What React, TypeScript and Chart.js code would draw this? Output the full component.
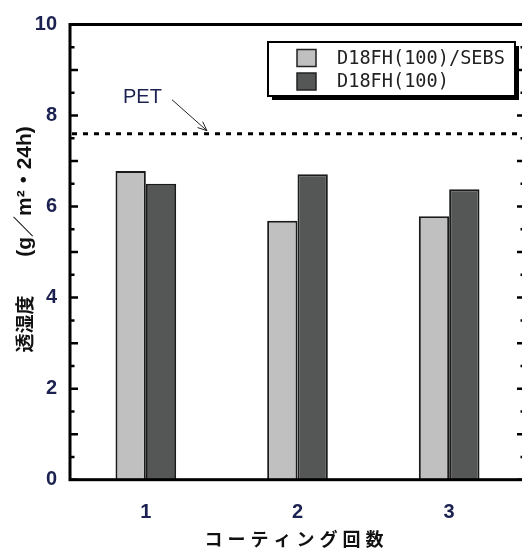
import React, { useEffect, useRef } from 'react';
import { Chart, registerables } from 'chart.js';

Chart.register(...registerables);

const categories = ['1', '2', '3'];
const seriesNames = ['D18FH(100)/SEBS', 'D18FH(100)'];
const sebsValues = [6.78, 5.69, 5.79];
const plainValues = [6.5, 6.71, 6.38];
const seriesColors = ['#c0c0c0', '#555757'];
const petValue = 7.6;
const petLabel = 'PET';
const yMin = 0;
const yMax = 10;
const yLabelStep = 2;
const yMinorStep = 0.5;
const yTitleMain = '透湿度';
const yTitleUnit = '(g／m²・24h)';
const xTitle = 'コーティング回数';

const tickColor = '#1b2150';

const decorPlugin = {
  id: 'decor',
  afterDatasetsDraw(chart: any) {
    const { ctx, chartArea: a, scales } = chart;
    const y = scales.y;
    ctx.save();

    // PET dotted line
    const py = y.getPixelForValue(petValue);
    ctx.strokeStyle = '#000';
    ctx.lineWidth = 3;
    ctx.setLineDash([5, 6]);
    ctx.beginPath();
    ctx.moveTo(a.left + 2, py);
    ctx.lineTo(a.right, py);
    ctx.stroke();
    ctx.setLineDash([]);

    // frame
    ctx.lineWidth = 3;
    ctx.strokeRect(a.left, a.top, a.right - a.left, a.bottom - a.top);

    // inward ticks on left and right
    ctx.lineWidth = 2.5;
    for (let v = yMin; v <= yMax + 1e-9; v += yMinorStep) {
      const ty = y.getPixelForValue(v);
      const major = Math.abs(v - Math.round(v)) < 1e-9;
      const len = major ? 8 : 4.5;
      ctx.beginPath();
      ctx.moveTo(a.left, ty);
      ctx.lineTo(a.left + len, ty);
      ctx.moveTo(a.right, ty);
      ctx.lineTo(a.right - len, ty);
      ctx.stroke();
    }

    // PET label and arrow
    ctx.fillStyle = tickColor;
    ctx.font = '20px "Liberation Sans", Arial, sans-serif';
    ctx.textAlign = 'left';
    ctx.textBaseline = 'alphabetic';
    ctx.fillText(petLabel, a.left + 53, py - 31);
    ctx.strokeStyle = '#222';
    ctx.lineWidth = 1;
    const sx = a.left + 102, sy = py - 34;
    const ex = a.left + 137, ey = py - 3;
    ctx.beginPath();
    ctx.moveTo(sx, sy);
    ctx.lineTo(ex, ey);
    const ang = Math.atan2(ey - sy, ex - sx);
    const hl = 10;
    ctx.moveTo(ex, ey);
    ctx.lineTo(ex - hl * Math.cos(ang - 0.4), ey - hl * Math.sin(ang - 0.4));
    ctx.moveTo(ex, ey);
    ctx.lineTo(ex - hl * Math.cos(ang + 0.4), ey - hl * Math.sin(ang + 0.4));
    ctx.stroke();

    // legend
    const lx = a.left + 198, ly = a.top + 17.5;
    const lw = 247, lh = 54;
    ctx.fillStyle = '#000';
    ctx.fillRect(lx + 4, ly + 4, lw, lh);
    ctx.fillStyle = '#fff';
    ctx.fillRect(lx, ly, lw, lh);
    ctx.strokeStyle = '#000';
    ctx.lineWidth = 2;
    ctx.strokeRect(lx, ly, lw, lh);
    ctx.font = '18.6px "DejaVu Sans Mono", monospace';
    ctx.textBaseline = 'middle';
    chart.data.datasets.forEach((ds: any, i: number) => {
      const rowY = ly + 16 + i * 23.5;
      ctx.fillStyle = ds.backgroundColor;
      ctx.fillRect(lx + 29, rowY - 8.5, 19, 17);
      ctx.strokeStyle = '#222';
      ctx.lineWidth = 1.5;
      ctx.strokeRect(lx + 29, rowY - 8.5, 19, 17);
      ctx.fillStyle = '#222';
      ctx.fillText(ds.label, lx + 69, rowY + 1);
    });

    // axis titles
    ctx.fillStyle = '#111';
    ctx.textAlign = 'center';
    ctx.textBaseline = 'middle';
    const drawRot = (text: string, cx: number, cy: number, font: string) => {
      ctx.save();
      ctx.font = font;
      ctx.translate(cx, cy);
      ctx.rotate(-Math.PI / 2);
      ctx.fillText(text, 0, 0);
      ctx.restore();
    };
    drawRot(yTitleMain, 25, 324, 'bold 19px "Noto Sans CJK JP", sans-serif');
    drawRot(yTitleUnit, 25, 191.5, 'bold 21px "Liberation Sans", "Noto Sans CJK JP", sans-serif');

    ctx.font = 'bold 18px "Noto Sans CJK JP", sans-serif';
    (ctx as any).letterSpacing = '5px';
    ctx.fillText(xTitle, (a.left + a.right) / 2 - 1, 539);
    (ctx as any).letterSpacing = '0px';

    ctx.restore();
  },
};

export default function App() {
  const ref = useRef<HTMLCanvasElement>(null);
  useEffect(() => {
    if (!ref.current) return;
    const chart = new Chart(ref.current, {
      type: 'bar',
      data: {
        labels: categories,
        datasets: [
          {
            label: seriesNames[0],
            data: sebsValues,
            backgroundColor: seriesColors[0],
            borderColor: '#1a1a1a',
            borderWidth: 2,
          },
          {
            label: seriesNames[1],
            data: plainValues,
            backgroundColor: seriesColors[1],
            borderColor: '#1a1a1a',
            borderWidth: 2,
          },
        ],
      },
      options: {
        responsive: false,
        animation: false,
        layout: { padding: { top: 24.5, right: 15, left: 0, bottom: 0 } },
        datasets: { bar: { categoryPercentage: 0.4, barPercentage: 1.0 } },
        plugins: { legend: { display: false }, tooltip: { enabled: false } },
        scales: {
          x: {
            grid: { display: false },
            border: { display: false },
            ticks: {
              color: tickColor,
              font: { family: '"Liberation Sans", Arial, sans-serif', size: 20, weight: 'bold' },
              padding: 13,
            },
            afterFit(scale: any) {
              scale.height = 69.3;
            },
          },
          y: {
            min: yMin,
            max: yMax,
            grid: { display: false },
            border: { display: false },
            ticks: {
              stepSize: yLabelStep,
              color: tickColor,
              font: { family: '"Liberation Sans", Arial, sans-serif', size: 20, weight: 'bold' },
              padding: 5,
            },
            afterFit(scale: any) {
              scale.width = 70;
            },
          },
        },
      },
      plugins: [decorPlugin],
    });
    return () => chart.destroy();
  }, []);
  return (
    <div style={{ position: 'fixed', left: 0, top: 0, width: 522, height: 549, overflow: 'hidden', background: '#fff' }}>
      <canvas ref={ref} width={540} height={549} style={{ width: 540, height: 549, display: 'block' }} />
    </div>
  );
}
